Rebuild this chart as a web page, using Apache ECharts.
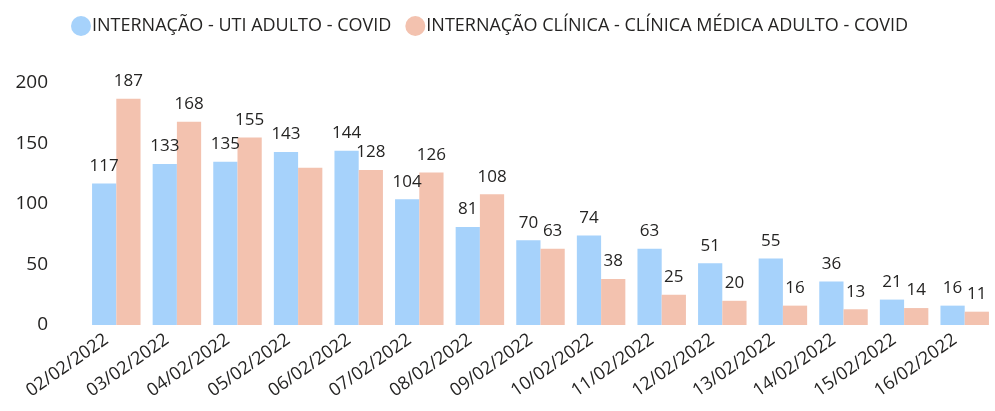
<!DOCTYPE html>
<html>
<head>
<meta charset="utf-8">
<script src="https://cdn.jsdelivr.net/npm/echarts@6/dist/echarts.min.js"></script>
<style>
  html, body { margin: 0; padding: 0; background: #fff; }
  #chart { width: 995px; height: 411px; }
</style>
</head>
<body>
<div id="chart"></div>
<script>
const dias = ['02/02/2022', '03/02/2022', '04/02/2022', '05/02/2022', '06/02/2022', '07/02/2022', '08/02/2022',
  '09/02/2022', '10/02/2022', '11/02/2022', '12/02/2022', '13/02/2022', '14/02/2022', '15/02/2022', '16/02/2022']
const uti = [117, 133, 135, 143, 144, 104, 81, 70, 74, 63, 51, 55, 36, 21, 16]
const clinica = [187, 168, 155, 130, 128, 126, 108, 63, 38, 25, 20, 16, 13, 14, 11]
const yTicks = [0, 50, 100, 150, 200]

const fonte = '"Open Sans", "Noto Sans", sans-serif'
const corTexto = '#252423'

// rótulo escondido no original (05/02 clínica)
const clinicaData = clinica.map((v, i) => i === 3 ? { value: v, label: { show: false } } : v)

const myChart = echarts.init(document.getElementById('chart'))
myChart.setOption({
  animation: false,
  color: ['#a6d2fb', '#f3c2af'],
  legend: {
    left: 66,
    top: 11,
    icon: 'circle',
    itemWidth: 20,
    itemHeight: 20,
    itemGap: 14,
    textStyle: { fontFamily: fonte, fontSize: 18, color: corTexto, padding: [0, 0, 0, -4] },
    data: ['INTERNAÇÃO - UTI ADULTO - COVID', 'INTERNAÇÃO CLÍNICA - CLÍNICA MÉDICA ADULTO - COVID']
  },
  grid: { left: 86, right: -15, top: 83, bottom: 86 },
  xAxis: {
    type: 'category',
    data: dias,
    axisLine: { show: false },
    axisTick: { show: false },
    axisLabel: {
      rotate: 35,
      margin: 6,
      padding: [0, 12, 0, 0],
      fontFamily: fonte,
      fontSize: 18,
      color: corTexto
    }
  },
  yAxis: {
    type: 'value',
    min: yTicks[0],
    max: yTicks[yTicks.length - 1],
    interval: 50,
    splitLine: { show: false },
    axisLine: { show: false },
    axisTick: { show: false },
    axisLabel: { margin: 38, fontFamily: fonte, fontSize: 19, color: corTexto }
  },
  series: [
    {
      name: 'INTERNAÇÃO - UTI ADULTO - COVID',
      type: 'bar',
      data: uti,
      barGap: '0%',
      barCategoryGap: '20%',
      label: { show: true, position: 'top', distance: 9, fontFamily: fonte, fontSize: 17, color: corTexto }
    },
    {
      name: 'INTERNAÇÃO CLÍNICA - CLÍNICA MÉDICA ADULTO - COVID',
      type: 'bar',
      data: clinicaData,
      barGap: '0%',
      barCategoryGap: '20%',
      label: { show: true, position: 'top', distance: 9, fontFamily: fonte, fontSize: 17, color: corTexto }
    }
  ]
})
</script>
</body>
</html>
